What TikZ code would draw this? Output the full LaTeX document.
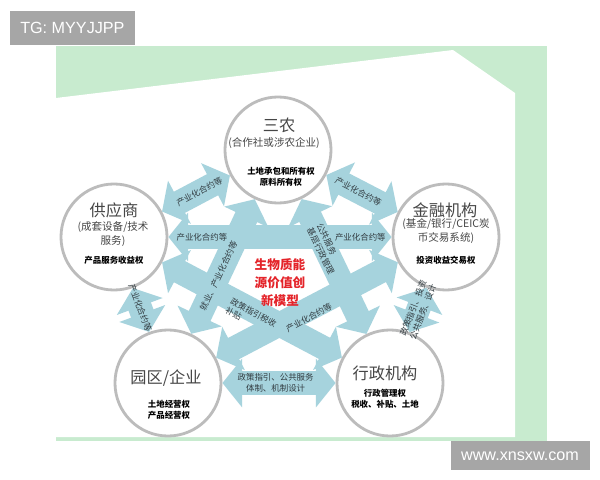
\documentclass[tikz,border=0pt]{standalone}
\usepackage{fontspec}
\newfontfamily\cjk{Noto Sans CJK SC}
\newfontfamily\latin{Liberation Sans}
\usetikzlibrary{arrows.meta}

\definecolor{panelgreen}{RGB}{200,235,207}
\definecolor{arrowblue}{RGB}{166,211,221}
\definecolor{ringgray}{RGB}{188,188,188}
\definecolor{badgegray}{RGB}{166,166,166}
\definecolor{namegray}{RGB}{70,70,70}
\definecolor{labelgray}{RGB}{50,60,65}
\definecolor{modelred}{RGB}{228,36,42}

\begin{document}
\begin{tikzpicture}[x=0.025cm, y=-0.025cm,
  party/.style={circle, draw=ringgray, line width=2pt, fill=white, minimum size=2.65cm, inner sep=0pt},
  flow/.style={arrowblue, line width=17pt, {Triangle[width=34pt,length=14pt]}-{Triangle[width=34pt,length=14pt]}},
  partyname/.style={font=\cjk\fontsize{11.5}{13}\selectfont, text=namegray, inner sep=0pt},
  partysub/.style={font=\cjk\fontsize{7.5}{10}\selectfont, text=namegray, align=center, inner sep=0pt},
  rights/.style={font=\cjk\bfseries\fontsize{6}{7.5}\selectfont, align=center, inner sep=0pt},
  flowtext/.style={font=\cjk\fontsize{6}{7.5}\selectfont, text=labelgray, align=center, inner sep=1pt},
  flowlabel/.style={flowtext, sloped},
  model/.style={font=\cjk\bfseries\fontsize{9}{12.8}\selectfont, text=modelred, align=center},
  badge/.style={text=white, font=\latin\fontsize{11.5}{13}\selectfont, inner sep=0pt}
]

% Page and background panel
\fill[white] (0,0) rectangle (600,480);
\useasboundingbox (0,0) rectangle (600,480);
\fill[panelgreen] (56,46) rectangle (547,441);
\fill[white] (56,98) -- (453,50) -- (515,93) -- (515,437) -- (56,437) -- cycle;

% Tags
\fill[badgegray] (10,11) rectangle (135,45);
\node[badge, anchor=west] (tag) at (20,28) {TG: MYYJJPP};
\fill[badgegray] (451,441) rectangle (590,470);
\node[badge] (site) at (520,456) {www.xnsxw.com};

% Parties
\node[party] (sannong) at (278,150) {};
\node[party] (gys) at (114,237) {};
\node[party] (jinrong) at (446,237) {};
\node[party] (yuanqu) at (168,383) {};
\node[party] (xingzheng) at (390,383) {};

% Outer ring
\draw[flow] (sannong) -- (gys);
\draw[flow] (sannong) -- (jinrong);
\draw[flow] (gys) -- (yuanqu);
\draw[flow] (jinrong) -- (xingzheng);
\draw[flow] (yuanqu) -- (xingzheng);

% Star
\draw[flow] (gys) -- (jinrong);
\draw[flow] (sannong) -- (yuanqu);
\draw[flow] (sannong) -- (xingzheng);
\draw[flow] (gys) -- (xingzheng);
\draw[flow] (jinrong) -- (yuanqu);

% Labels on the arrows
\path (sannong) -- node[flowlabel, pos=0.45] {产业化合约等} (gys);
\path (sannong) -- node[flowlabel, pos=0.45] {产业化合约等} (jinrong);
\path (gys) -- node[flowlabel, pos=0.45] {产业化合约等} (yuanqu);
\path (jinrong) -- node[flowlabel, pos=0.5] {政策指引、投资\\公共服务、设计} (xingzheng);
\path (yuanqu) -- node[flowlabel, pos=0.47] {政策指引、公共服务\\体制、机制设计} (xingzheng);
\path (gys) -- node[flowlabel, pos=0.15] {产业化合约等}
  node[flowlabel, pos=0.86] {产业化合约等} (jinrong);
\path (sannong) -- node[flowlabel, pos=0.57] {就业、产业化合约等} (yuanqu);
\path (sannong) -- node[flowlabel, pos=0.37, align=left] {公共服务\\基层行政管理} (xingzheng);
\node[flowtext, rotate=-28, align=left] (subsidylabel) at (251,317) {政策指引税收\\补贴};
\node[flowtext, rotate=28] (chainlabel) at (309,318) {产业化合约等};

% Texts in the circles
\node[partyname] (sannongname) at (279,125) {三农};
\node[partysub] (sannongsub) at (274,143) {(合作社或涉农企业)};
\node[rights] (sannongrights) at (281,177) {土地承包和所有权\\原料所有权};

\node[partyname] (gysname) at (114,210) {供应商};
\node[partysub] (gyssub) at (113,234) {(成套设备/技术\\服务)};
\node[rights] (gysrights) at (114,260) {产品服务收益权};

\node[partyname] (jinrongname) at (445,210) {金融机构};
\node[partysub] (jinrongsub) at (446,231) {(基金/银行/CEIC炭\\币交易系统)};
\node[rights] (jinrongrights) at (446,260) {投资收益交易权};

\node[partyname] (yuanquname) at (166,378) {园区/企业};
\node[rights] (yuanqurights) at (169,410) {土地经营权\\产品经营权};

\node[partyname] (xingzhengname) at (385,373) {行政机构};
\node[rights] (xingzhengrights) at (385,399) {行政管理权\\税收、补贴、土地};

% Centre
\node[model] (model) at (280,283) {生物质能\\源价值创\\新模型};

\end{tikzpicture}
\end{document}
